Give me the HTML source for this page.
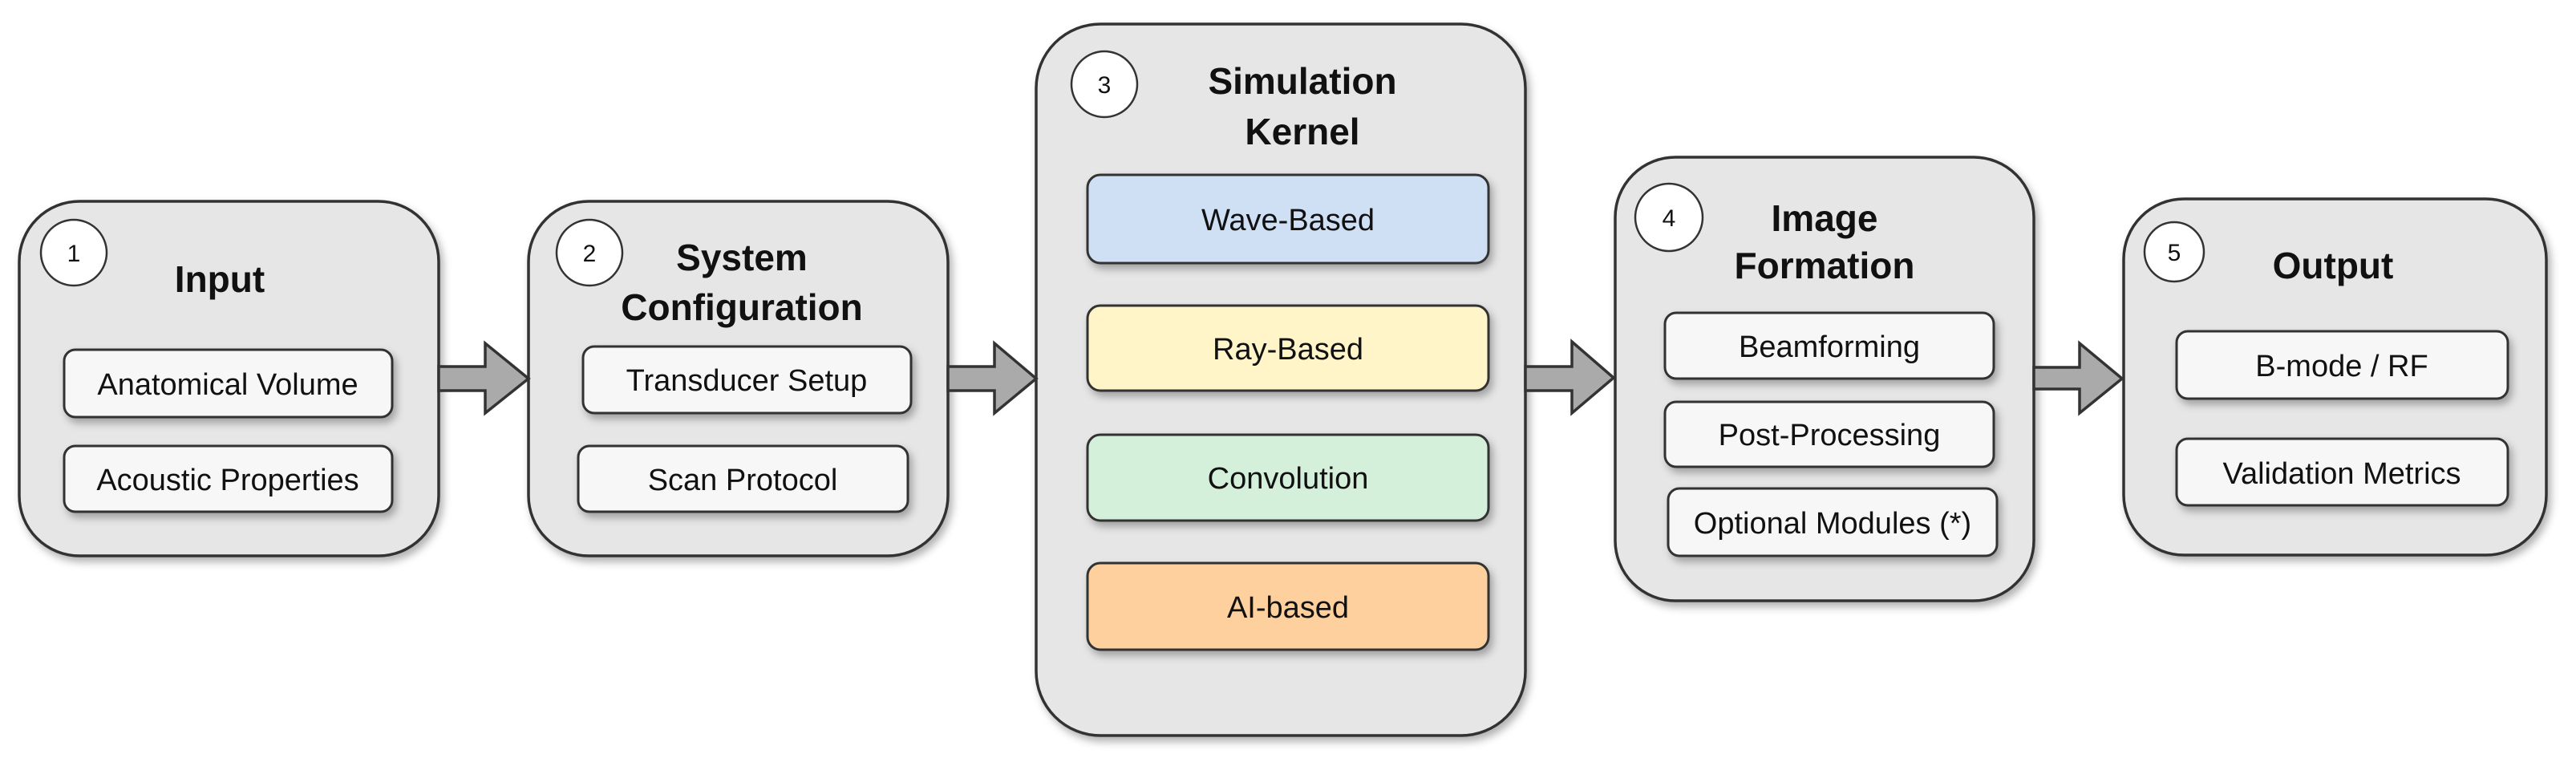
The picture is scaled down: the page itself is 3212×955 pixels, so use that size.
<!DOCTYPE html>
<html><head><meta charset="utf-8"><style>
html,body{margin:0;padding:0;background:#fff;}
svg{display:block;font-family:"Liberation Sans",Arial,sans-serif;}
</style></head><body>
<svg width="3212" height="955" viewBox="0 0 3212 955" xmlns="http://www.w3.org/2000/svg">
<defs>
<filter id="sh" x="-10%" y="-10%" width="130%" height="140%">
<feDropShadow dx="4" dy="6" stdDeviation="5" flood-color="#000" flood-opacity="0.3"/>
</filter>
</defs>
<g stroke="#333" stroke-width="3.5">
<!-- outer boxes -->
<rect x="24" y="251" width="523" height="442" rx="75" fill="#e6e6e6" filter="url(#sh)"/>
<rect x="659" y="251" width="523" height="442" rx="75" fill="#e6e6e6" filter="url(#sh)"/>
<rect x="1292" y="30" width="610" height="887" rx="80" fill="#e6e6e6" filter="url(#sh)"/>
<rect x="2014" y="196" width="522" height="553" rx="75" fill="#e6e6e6" filter="url(#sh)"/>
<rect x="2648" y="248" width="527" height="444" rx="75" fill="#e6e6e6" filter="url(#sh)"/>
<!-- arrows -->
<polygon points="547,457 605,457 605,428 659,472 605,515 605,487 547,487" fill="#aaa"/>
<polygon points="1182,457 1240,457 1240,428 1292,472 1240,515 1240,487 1182,487" fill="#aaa"/>
<polygon points="1902,457 1960,457 1960,426 2012,471 1960,515 1960,487 1902,487" fill="#aaa"/>
<polygon points="2536,458 2593,458 2593,428 2646,472 2593,515 2593,485 2536,485" fill="#aaa"/>
<!-- circles -->
<circle cx="92" cy="315" r="41" fill="#fff" stroke-width="2.5"/>
<circle cx="735" cy="315" r="41" fill="#fff" stroke-width="2.5"/>
<circle cx="1377" cy="105" r="41" fill="#fff" stroke-width="2.5"/>
<circle cx="2081" cy="271" r="42" fill="#fff" stroke-width="2.5"/>
<circle cx="2711" cy="314" r="37" fill="#fff" stroke-width="2.5"/>
<!-- sub boxes -->
<g stroke-width="3" filter="url(#sh)">
<rect x="80" y="436" width="409" height="84" rx="14" fill="#f7f7f7"/>
<rect x="80" y="556" width="409" height="82" rx="14" fill="#f7f7f7"/>
<rect x="727" y="432" width="409" height="83" rx="14" fill="#f7f7f7"/>
<rect x="721" y="556" width="411" height="82" rx="14" fill="#f7f7f7"/>
<rect x="1356" y="218" width="500" height="110" rx="16" fill="#cfe0f5"/>
<rect x="1356" y="381" width="500" height="106" rx="16" fill="#fff5c8"/>
<rect x="1356" y="542" width="500" height="107" rx="16" fill="#d4f0da"/>
<rect x="1356" y="702" width="500" height="108" rx="16" fill="#fdd09e"/>
<rect x="2076" y="390" width="410" height="82" rx="14" fill="#f7f7f7"/>
<rect x="2076" y="501" width="410" height="81" rx="14" fill="#f7f7f7"/>
<rect x="2080" y="609" width="410" height="84" rx="14" fill="#f7f7f7"/>
<rect x="2714" y="413" width="413" height="84" rx="14" fill="#f7f7f7"/>
<rect x="2714" y="547" width="413" height="83" rx="14" fill="#f7f7f7"/>
</g>
</g>
<g fill="#111" text-anchor="middle">
<g font-size="30">
<text x="92" y="326">1</text>
<text x="735" y="326">2</text>
<text x="1377" y="116">3</text>
<text x="2081" y="282">4</text>
<text x="2711" y="325">5</text>
</g>
<g font-size="46" font-weight="bold">
<text x="274" y="364">Input</text>
<text x="925" y="337">System</text>
<text x="925" y="399">Configuration</text>
<text x="1624" y="117">Simulation</text>
<text x="1624" y="180">Kernel</text>
<text x="2275" y="288">Image</text>
<text x="2275" y="347">Formation</text>
<text x="2909" y="347">Output</text>
</g>
<g font-size="38">
<text x="284" y="492">Anatomical Volume</text>
<text x="284" y="611">Acoustic Properties</text>
<text x="931" y="487">Transducer Setup</text>
<text x="926" y="611">Scan Protocol</text>
<text x="1606" y="287">Wave-Based</text>
<text x="1606" y="448">Ray-Based</text>
<text x="1606" y="609">Convolution</text>
<text x="1606" y="770">AI-based</text>
<text x="2281" y="445">Beamforming</text>
<text x="2281" y="555">Post-Processing</text>
<text x="2285" y="665">Optional Modules (*)</text>
<text x="2920" y="469">B-mode / RF</text>
<text x="2920" y="603">Validation Metrics</text>
</g>
</g>
</svg>
</body></html>
